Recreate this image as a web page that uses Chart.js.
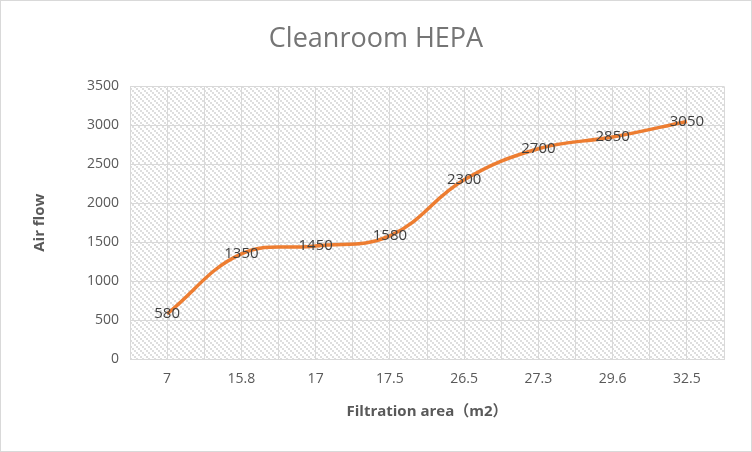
<!DOCTYPE html>
<html>
<head>
<meta charset="utf-8">
<script src="https://cdn.jsdelivr.net/npm/chart.js@4"></script>
<style>
  html, body { margin: 0; padding: 0; background: #fff; }
  #wrap { width: 752px; height: 452px; }
</style>
</head>
<body>
<div id="wrap"><canvas id="chart" width="752" height="452"></canvas></div>
<script>
// filtration area (m2) categories and air flow values
var areas = ['7', '15.8', '17', '17.5', '26.5', '27.3', '29.6', '32.5'];
var airFlow = [580, 1350, 1450, 1580, 2300, 2700, 2850, 3050];

var fontFam = '"Open Sans", "Noto Sans CJK SC", sans-serif';
var gridColor = '#D9D9D9';
var textColor = '#595959';

// hatched plot background (downward diagonal)
function makePattern() {
  var c = document.createElement('canvas');
  c.width = 6; c.height = 6;
  var g = c.getContext('2d');
  g.fillStyle = '#fff';
  g.fillRect(0, 0, 6, 6);
  g.fillStyle = '#DEDEDE';
  for (var b = 0; b < 3; b++) g.fillRect(b * 2, b * 2, 2, 2);
  return g.createPattern(c, 'repeat');
}

var bgPlugin = {
  id: 'bg',
  beforeDraw: function(chart) {
    var ctx = chart.ctx, a = chart.chartArea;
    ctx.save();
    ctx.fillStyle = '#fff';
    ctx.fillRect(0, 0, chart.width, chart.height);
    ctx.fillStyle = makePattern();
    ctx.fillRect(a.left, a.top, a.right - a.left, a.bottom - a.top);
    ctx.strokeStyle = gridColor;
    ctx.lineWidth = 1;
    ctx.strokeRect(0.5, 0.5, chart.width - 1, chart.height - 1);
    ctx.restore();
  }
};

var labelPlugin = {
  id: 'pointLabels',
  afterDatasetsDraw: function(chart) {
    var ctx = chart.ctx;
    var meta = chart.getDatasetMeta(0);
    ctx.save();
    ctx.font = '15px ' + fontFam;
    ctx.fillStyle = '#404040';
    ctx.textAlign = 'center';
    ctx.textBaseline = 'middle';
    meta.data.forEach(function(pt, i) {
      ctx.fillText(String(airFlow[i]), pt.x, pt.y);
    });
    ctx.restore();
  }
};

new Chart(document.getElementById('chart'), {
  type: 'line',
  data: {
    datasets: [{
      data: airFlow.map(function(v, i) { return { x: i, y: v }; }),
      borderColor: '#ED7D31',
      borderWidth: 3.5,
      pointRadius: 0,
      tension: 0.4,
      fill: false
    }]
  },
  options: {
    responsive: false,
    animation: false,
    layout: { padding: { left: 28, right: 28, top: 0, bottom: 0 } },
    plugins: {
      legend: { display: false },
      tooltip: { enabled: false },
      title: {
        display: true,
        text: 'Cleanroom HEPA',
        color: '#757575',
        font: { family: fontFam, size: 27, weight: 'normal' },
        padding: { top: 23, bottom: 31 }
      }
    },
    scales: {
      x: {
        type: 'linear',
        min: -0.5,
        max: 7.5,
        afterBuildTicks: function(s) {
          var t = [];
          for (var v = -0.5; v <= 7.5; v += 0.5) t.push({ value: v });
          s.ticks = t;
        },
        afterFit: function(s) { s.height = 93; },
        grid: { color: gridColor, drawTicks: false },
        border: { color: gridColor },
        ticks: {
          autoSkip: false,
          maxRotation: 0,
          padding: 12,
          color: textColor,
          font: { family: fontFam, size: 14 },
          callback: function(v) { return Number.isInteger(v) ? areas[v] : ''; }
        },
        title: {
          display: true,
          text: 'Filtration area（m2）',
          color: textColor,
          font: { family: fontFam, size: 15, weight: 'bold' },
          padding: { top: 0, bottom: 31 }
        }
      },
      y: {
        min: 0,
        max: 3500,
        afterFit: function(s) { s.width = 102; },
        grid: { color: gridColor, drawTicks: false },
        border: { color: gridColor },
        ticks: {
          stepSize: 500,
          padding: 11,
          color: textColor,
          font: { family: fontFam, size: 14 },
          callback: function(v) { return String(v); }
        },
        title: {
          display: true,
          text: 'Air flow',
          color: textColor,
          font: { family: fontFam, size: 15, weight: 'bold' },
          padding: { top: 3, bottom: 0 }
        }
      }
    }
  },
  plugins: [bgPlugin, labelPlugin]
});
</script>
</body>
</html>
